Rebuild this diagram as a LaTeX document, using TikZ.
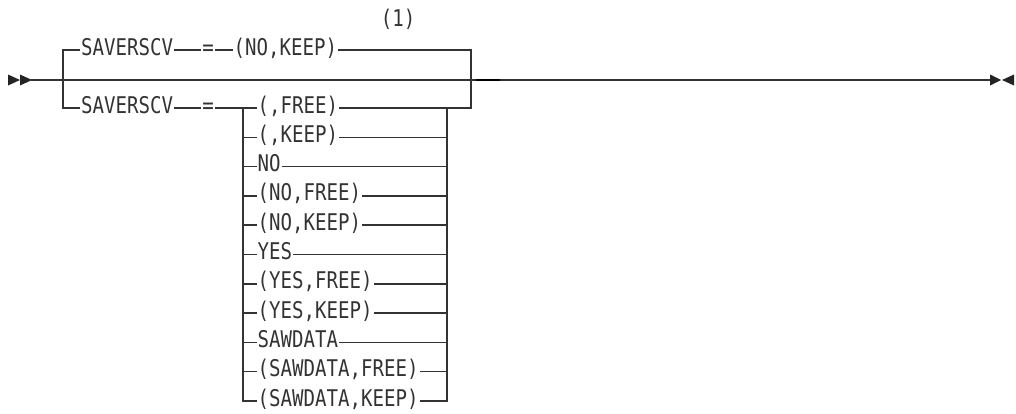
\documentclass[tikz,border=0pt]{standalone}
\usepackage{fontspec}
\newfontfamily\dgfont[FakeStretch=0.83]{DejaVu Sans Mono}
\usetikzlibrary{calc}
\definecolor{ink}{RGB}{51,51,51}

\begin{document}
\begin{tikzpicture}[x=1pt, y=-1pt,
  lbl/.style={font={\dgfont\fontsize{23}{23}\selectfont}, text=ink, anchor=base west, inner sep=1.5pt},
  eqs/.style={lbl, anchor=base},
  rail/.style={draw=ink, line width=1.5pt, line cap=rect},
  tip/.style={fill=ink!70!black},
  thk/.style={draw=black, line width=2.6pt}]

\useasboundingbox (0,0) rectangle (1016,413);

% ---------- main line ----------
\coordinate (start) at (32,80);
\coordinate (stop)  at (990,80);
\draw[rail] (start) -- (stop);
\fill[tip] (start) ++(-24,-5.5) -- ++(12,5.5) -- ++(-12,5.5) -- cycle;
\fill[tip] (start) ++(-12,-5.5) -- ++(12,5.5) -- ++(-12,5.5) -- cycle;
\fill[tip] (stop) ++(0,-5.5) -- ++(11,5.5) -- ++(-11,5.5) -- cycle;
\fill[tip] (stop) ++(24,-5.5) -- ++(-12,5.5) -- ++(12,5.5) -- cycle;

% ---------- junctions ----------
\coordinate (ltop) at (63,50);
\coordinate (lbot) at (63,108);
\coordinate (rtop) at (471,50);
\coordinate (rbot) at (471,108);
\coordinate (ilt)  at (243,108);
\coordinate (irt)  at (447,108);

% ---------- keywords ----------
\node[lbl] (sv1) at (79.5,55) {SAVERSCV};
\node[eqs] (eq1) at (208,55) {=};
\node[lbl] (nk)  at (232,55) {(NO,KEEP)};
\node[eqs] (note) at (398,26) {(1)};
\node[lbl] (sv2) at (79.5,113) {SAVERSCV};
\node[eqs] (eq2) at (208,113) {=};

% ---------- default branch ----------
\draw[rail] (sv1.west |- ltop) -- (ltop) -- (lbot) -- (sv2.west |- lbot);
\draw[rail] (sv1.east |- ltop) -- (eq1.west |- ltop);
\draw[rail] (eq1.east |- ltop) -- (nk.west |- ltop);
\draw[rail] (nk.east |- ltop) -- (rtop) -- (rbot) -- (irt);
\draw[thk] (rtop |- start) ++(5,0) -- ++(24,0);

% ---------- choice branch ----------
\draw[rail] (sv2.east |- lbot) -- (eq2.west |- lbot);
\draw[rail] (eq2.east |- lbot) -- (ilt);

\foreach \txt [count=\i from 0] in {{(,FREE)},{(,KEEP)},NO,{(NO,FREE)},{(NO,KEEP)},YES,
    {(YES,FREE)},{(YES,KEEP)},SAWDATA,{(SAWDATA,FREE)},{(SAWDATA,KEEP)}}{
  \coordinate (a\i) at ($(ilt)+(0,29.3*\i)$);
  \coordinate (b\i) at ($(irt)+(0,29.3*\i)$);
  \node[lbl] (o\i) at ($(a\i)+(13,5)$) {\txt};
  \draw[rail] (a\i) -- (o\i.west |- a\i);
  \draw[rail] (o\i.east |- b\i) -- (b\i);
}
\draw[rail] (a0) -- (a10);
\draw[rail] (b0) -- (b10);

\end{tikzpicture}
\end{document}
